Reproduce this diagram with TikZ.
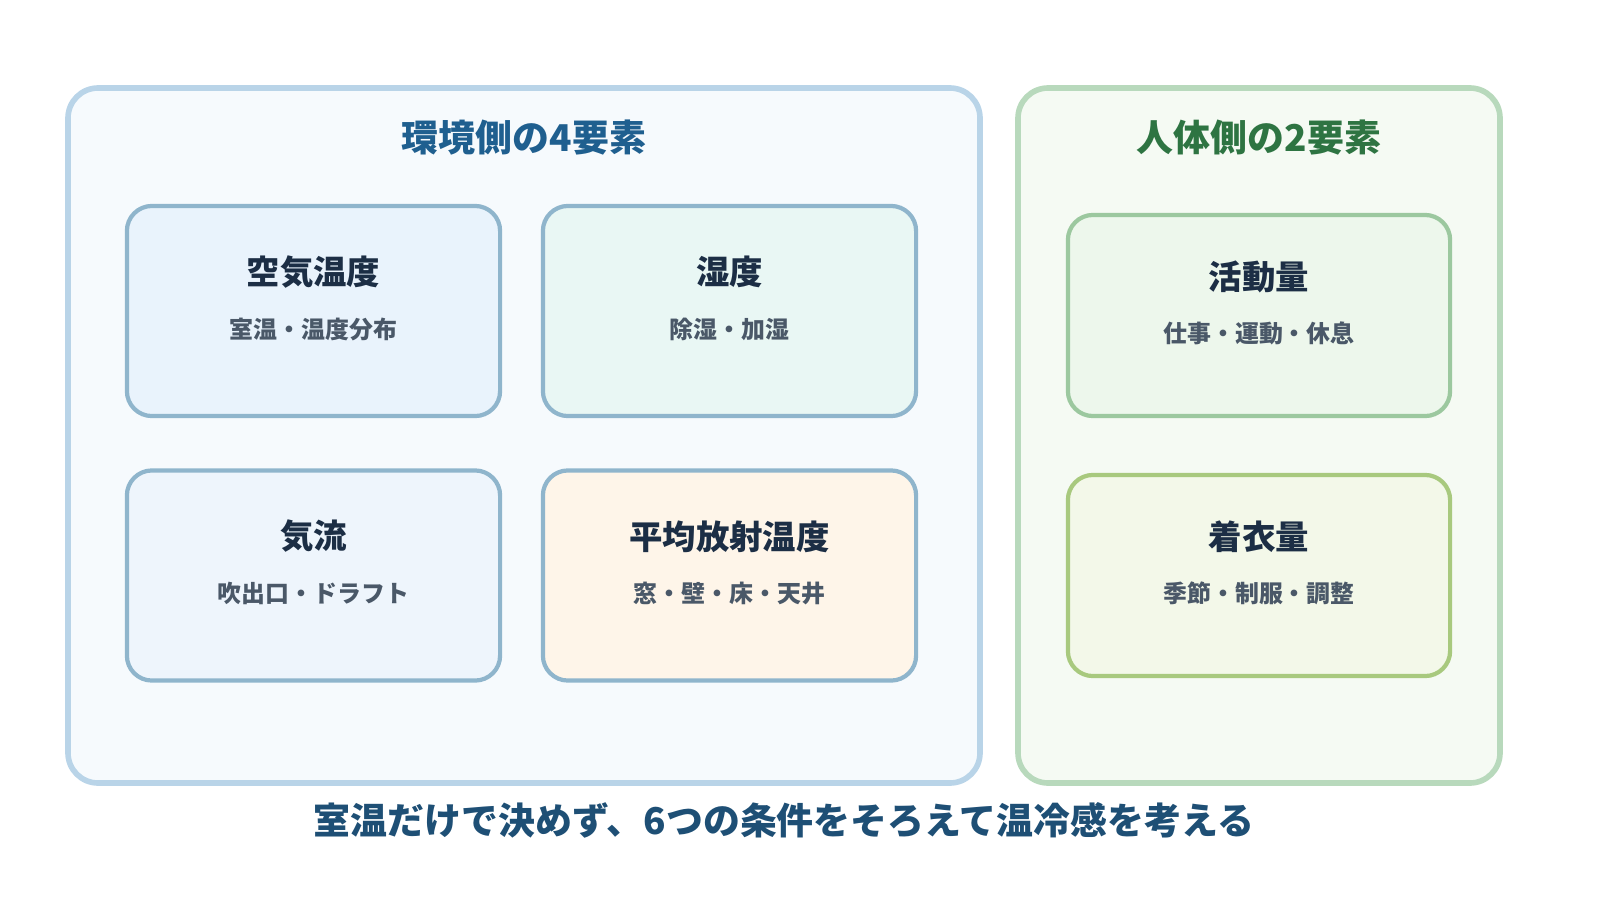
\documentclass[tikz,border=0pt]{standalone}
\usepackage{fontspec}
\setmainfont{Noto Sans CJK JP}
\usetikzlibrary{positioning}
\definecolor{envline}{HTML}{B9D4E8}
\definecolor{envfill}{HTML}{F6FAFD}
\definecolor{humline}{HTML}{B8D9BC}
\definecolor{humfill}{HTML}{F5FAF3}
\definecolor{envtitle}{HTML}{1F5F8F}
\definecolor{humtitle}{HTML}{2E7442}
\definecolor{sumtitle}{HTML}{1E4F75}
\definecolor{boxline}{HTML}{8FB5CC}
\definecolor{actline}{HTML}{9CC89F}
\definecolor{cloline}{HTML}{A8C97E}
\definecolor{tempfill}{HTML}{E9F3FC}
\definecolor{humdfill}{HTML}{E9F7F4}
\definecolor{airfill}{HTML}{EEF5FC}
\definecolor{radfill}{HTML}{FEF5E9}
\definecolor{actfill}{HTML}{EDF7EC}
\definecolor{clofill}{HTML}{F3F8E9}
\definecolor{txtdark}{HTML}{1C2E45}
\definecolor{txtsub}{HTML}{4A5868}
\begin{document}
\begin{tikzpicture}[x=0.01cm,y=-0.01cm,
	panel/.style = {draw, line width=1.6pt, rounded corners=0.3cm},
	factor/.style = {draw=boxline, line width=1.2pt, rounded corners=0.25cm, minimum width=3.73cm, minimum height=2.1cm},
	head/.style = {font=\bfseries\fontsize{10.5}{12}\selectfont},
	fname/.style = {font=\bfseries\fontsize{9.5}{11}\selectfont, text=txtdark},
	fnote/.style = {font=\bfseries\fontsize{6.8}{8}\selectfont, text=txtsub}
	]
  \useasboundingbox (0,0) rectangle (1600,900);
  % panels
  \draw [panel, draw=envline, fill=envfill] (68,88) rectangle (980,783);
  \draw [panel, draw=humline, fill=humfill] (1018,88) rectangle (1500,783);
  \node [head, text=envtitle] (envhead) at (524,138) {環境側の4要素};
  \node [head, text=humtitle] (humhead) at (1259,138) {人体側の2要素};
  % environment factors
  \node [factor, fill=tempfill] (temp) at (313.5,311) {};
  \node [factor, fill=humdfill] (hum) at (729.5,311) {};
  \node [factor, fill=airfill] (air) at (313.5,575.5) {};
  \node [factor, fill=radfill] (rad) at (729.5,575.5) {};
  % human factors
  \node [factor, draw=actline, fill=actfill, minimum width=3.82cm, minimum height=2.01cm] (act) at (1259,315.5) {};
  \node [factor, draw=cloline, fill=clofill, minimum width=3.82cm, minimum height=2.01cm] (clo) at (1259,575.5) {};
  % labels
  \foreach \n/\t/\s in {temp/空気温度/室温・温度分布, hum/湿度/除湿・加湿,
      air/気流/吹出口・ドラフト, rad/平均放射温度/窓・壁・床・天井,
      act/活動量/仕事・運動・休息, clo/着衣量/季節・制服・調整}{
    \node [fname] (\n-name) at ([yshift=0.39cm]\n.center) {\t};
    \node [fnote] (\n-note) at ([yshift=-0.18cm]\n.center) {\s};
  }
  \node [head, text=sumtitle] (summary) at (784,820) {室温だけで決めず、6つの条件をそろえて温冷感を考える};
\end{tikzpicture}
\end{document}
